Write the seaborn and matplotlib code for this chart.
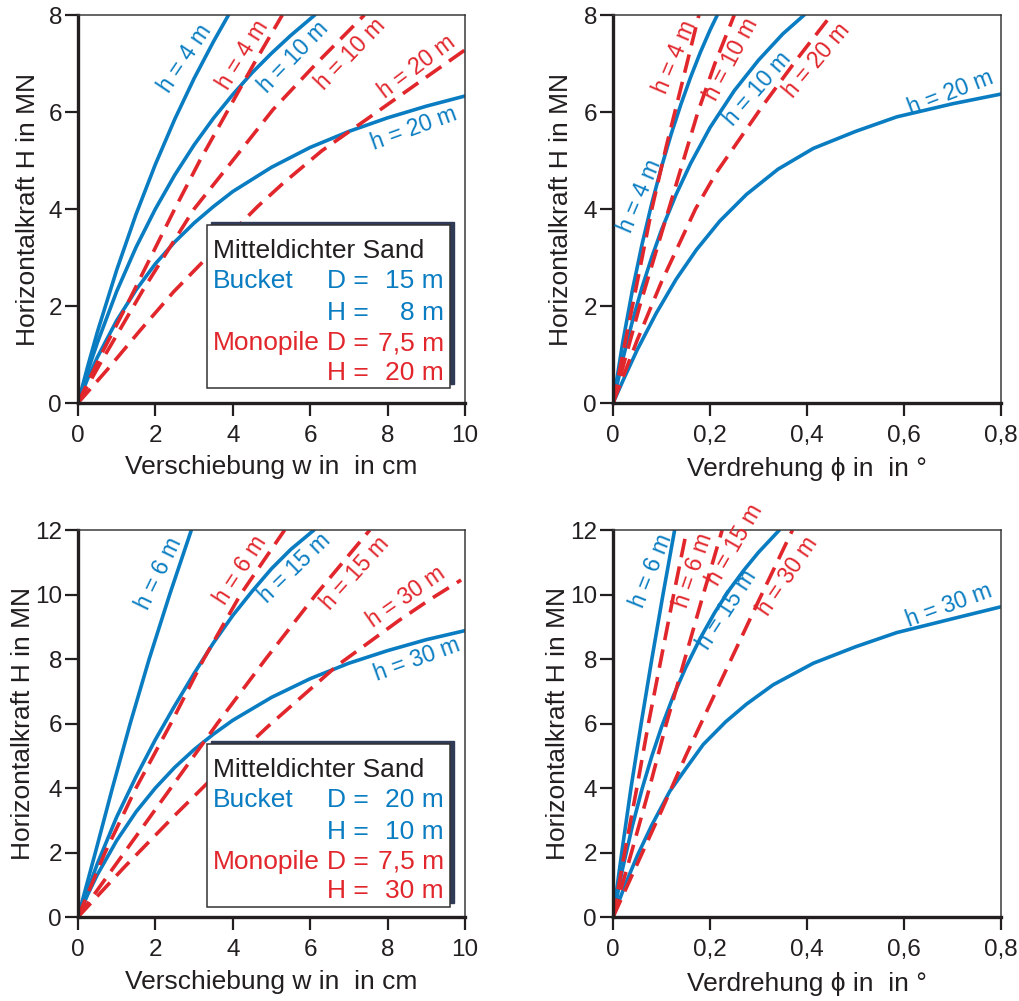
import pandas as pd
import seaborn as sns
import matplotlib.pyplot as plt
from matplotlib.patches import Rectangle

BLUE = "#0a7dc2"
RED = "#e1262c"
INK = "#231f20"

# ---- values ----
# top left: Verschiebung w (cm) vs H (MN), D = 15 m bucket / 7,5 m monopile
tl_b4_w = [0, 0.25, 0.5, 1.0, 1.5, 2.0, 2.5, 3.0, 3.5, 3.89]
tl_b4_H = [0, 0.75, 1.46, 2.74, 3.89, 4.92, 5.85, 6.69, 7.45, 8.0]
tl_b10_w = [0, 0.25, 0.5, 1.0, 1.5, 2.0, 2.5, 3.0, 3.5, 4.0, 4.5, 5.0, 5.5, 6.12]
tl_b10_H = [0, 0.65, 1.24, 2.3, 3.21, 4.0, 4.7, 5.32, 5.87, 6.36, 6.81, 7.21, 7.58, 8.0]
tl_b20_w = [0, 0.25, 0.5, 1.0, 1.5, 2.0, 2.5, 3.0, 3.5, 4.0, 5.0, 6.0, 7.0, 8.0, 9.0, 10.0]
tl_b20_H = [0, 0.5, 0.94, 1.7, 2.33, 2.87, 3.32, 3.71, 4.05, 4.36, 4.86, 5.27, 5.6, 5.88, 6.12, 6.33]
tl_r4_w = [0, 0.6, 1.25, 2.5, 3.15, 3.85, 4.55, 5.28]
tl_r4_H = [0, 1.0, 2.0, 4.0, 5.0, 6.0, 7.0, 8.0]
tl_r10_w = [0, 0.6, 1.68, 3.0, 4.0, 5.04, 6.16, 7.4]
tl_r10_H = [0, 0.85, 2.33, 4.0, 5.0, 6.05, 7.0, 8.0]
tl_r20_w = [0, 0.76, 1.62, 2.48, 3.58, 4.64, 5.3, 6.3, 7.46, 8.7, 10.0]
tl_r20_H = [0, 0.69, 1.51, 2.3, 3.2, 4.05, 4.53, 5.2, 5.85, 6.55, 7.28]

# top right: Verdrehung phi (deg) vs H (MN)
tr_b4_p = [0, 0.02, 0.04, 0.06, 0.08, 0.1, 0.12, 0.14, 0.16, 0.18, 0.2, 0.215]
tr_b4_H = [0, 1.25, 2.33, 3.28, 4.12, 4.87, 5.55, 6.16, 6.72, 7.23, 7.69, 8.0]
tr_b10_p = [0, 0.02, 0.04, 0.06, 0.08, 0.1, 0.13, 0.16, 0.2, 0.25, 0.3, 0.35, 0.394]
tr_b10_H = [0, 0.9, 1.69, 2.39, 3.01, 3.57, 4.3, 4.94, 5.68, 6.44, 7.07, 7.61, 8.0]
tr_b20_p = [0, 0.02, 0.05, 0.089, 0.13, 0.172, 0.22, 0.275, 0.34, 0.413, 0.5, 0.585, 0.7, 0.8]
tr_b20_H = [0, 0.45, 1.1, 1.85, 2.55, 3.16, 3.75, 4.3, 4.82, 5.25, 5.6, 5.9, 6.17, 6.37]
tr_r4_p = [0, 0.04, 0.08, 0.11, 0.14, 0.177]
tr_r4_H = [0, 2.0, 4.0, 5.3, 6.5, 8.0]
tr_r10_p = [0, 0.055, 0.115, 0.175, 0.21, 0.25]
tr_r10_H = [0, 2.0, 4.0, 6.0, 7.0, 8.0]
tr_r20_p = [0, 0.05, 0.1, 0.17, 0.213, 0.31, 0.38, 0.45]
tr_r20_H = [0, 1.3, 2.5, 4.0, 4.75, 6.15, 7.1, 8.0]

# bottom left: D = 20 m bucket / 7,5 m monopile
bl_b6_w = [0, 0.45, 0.89, 1.35, 1.84, 2.37, 2.93]
bl_b6_H = [0, 2, 4, 6, 8, 10, 12]
bl_b15_w = [0, 0.5, 1.0, 1.5, 2.0, 2.5, 3.0, 3.5, 4.0, 4.5, 5.0, 5.5, 6.1]
bl_b15_H = [0, 1.65, 3.1, 4.35, 5.5, 6.55, 7.55, 8.5, 9.35, 10.1, 10.8, 11.4, 12.0]
bl_b30_w = [0, 0.25, 0.5, 1.0, 1.5, 2.0, 2.5, 3.0, 3.5, 4.0, 5.0, 6.0, 7.0, 8.0, 9.0, 10.0]
bl_b30_H = [0, 0.69, 1.31, 2.37, 3.26, 4.0, 4.64, 5.19, 5.67, 6.1, 6.81, 7.39, 7.87, 8.26, 8.6, 8.88]
bl_r6_w = [0, 0.7, 1.5, 2.4, 3.25, 4.2, 5.34]
bl_r6_H = [0, 2, 4, 6, 8, 10, 12]
bl_r15_w = [0, 1.2, 2.4, 3.6, 4.85, 6.15, 7.54]
bl_r15_H = [0, 2, 4, 6, 8, 10, 12]
bl_r30_w = [0, 1.2, 2.5, 3.3, 4.1, 4.9, 5.8, 6.7, 7.5, 8.3, 9.1, 9.9]
bl_r30_H = [0, 1.55, 3.15, 4.1, 5.0, 5.9, 6.85, 7.8, 8.5, 9.2, 9.85, 10.45]

# bottom right
br_b6_p = [0, 0.018, 0.037, 0.058, 0.08, 0.103, 0.127]
br_b6_H = [0, 2, 4, 6, 8, 10, 12]
br_b15_p = [0, 0.02, 0.04, 0.06, 0.08, 0.1, 0.125, 0.15, 0.18, 0.21, 0.24, 0.27, 0.3, 0.343]
br_b15_H = [0, 1.52, 2.83, 3.98, 4.99, 5.89, 6.88, 7.74, 8.65, 9.45, 10.15, 10.76, 11.31, 12.0]
br_b30_p = [0, 0.025, 0.05, 0.08, 0.117, 0.15, 0.186, 0.232, 0.275, 0.33, 0.413, 0.5, 0.585, 0.7, 0.8]
br_b30_H = [0, 1.0, 1.9, 2.85, 3.9, 4.6, 5.35, 6.05, 6.6, 7.2, 7.87, 8.38, 8.82, 9.25, 9.62]
br_r6_p = [0, 0.024, 0.049, 0.073, 0.099, 0.125, 0.152]
br_r6_H = [0, 2, 4, 6, 8, 10, 12]
br_r15_p = [0, 0.038, 0.075, 0.11, 0.148, 0.186, 0.225]
br_r15_H = [0, 2, 4, 6, 8, 10, 12]
br_r30_p = [0, 0.05, 0.1, 0.15, 0.2, 0.25, 0.3, 0.37]
br_r30_H = [0, 1.65, 3.3, 5.0, 6.6, 8.2, 9.8, 12.0]

w_ticks = [0, 2, 4, 6, 8, 10]
w_ticklabels = ["0", "2", "4", "6", "8", "10"]
phi_ticks = [0, 0.2, 0.4, 0.6, 0.8]
phi_ticklabels = ["0", "0,2", "0,4", "0,6", "0,8"]
H_ticks_top = [0, 2, 4, 6, 8]
H_ticks_bottom = [0, 2, 4, 6, 8, 10, 12]

legend_top = [("Bucket", "D =", "15 m", BLUE), ("", "H =", "8 m", BLUE),
              ("Monopile", "D =", "7,5 m", RED), ("", "H =", "20 m", RED)]
legend_bottom = [("Bucket", "D =", "20 m", BLUE), ("", "H =", "10 m", BLUE),
                 ("Monopile", "D =", "7,5 m", RED), ("", "H =", "30 m", RED)]

sns.set_theme(style="ticks")
plt.rcParams["font.family"] = ["Liberation Sans", "DejaVu Sans"]
plt.rcParams["text.color"] = INK
plt.rcParams["axes.labelcolor"] = INK
plt.rcParams["xtick.color"] = INK
plt.rcParams["ytick.color"] = INK

fig = plt.figure(figsize=(10.19, 10.01), dpi=100)
ax_tl = fig.add_axes([0.0765, 0.5974, 0.3798, 0.3876])
ax_tr = fig.add_axes([0.6016, 0.5974, 0.3808, 0.3876])
ax_bl = fig.add_axes([0.0765, 0.0839, 0.3798, 0.3866])
ax_br = fig.add_axes([0.6016, 0.0839, 0.3808, 0.3866])


def curve(ax, x, y, color, dashed=False):
    df = pd.DataFrame({"x": x, "y": y})
    ls = (0, (5.2, 2.6)) if dashed else "-"
    sns.lineplot(data=df, x="x", y="y", ax=ax, color=color, linewidth=2.6,
                 linestyle=ls, estimator=None, sort=False, zorder=2 + dashed * 0.1)


def style_axis(ax, xticks, xlabels, yticks, xmax, ymax, xlabel, ylab_x, xlab_y):
    ax.set_xlim(0, xmax)
    ax.set_ylim(0, ymax)
    ax.set_xticks(xticks)
    ax.set_xticklabels(xlabels)
    ax.set_yticks(yticks)
    ax.set_yticklabels([str(t) for t in yticks])
    ax.tick_params(axis="both", direction="out", length=9.5, width=1.6, labelsize=17.5)
    ax.tick_params(axis="x", pad=6)
    ax.tick_params(axis="y", pad=2)
    for side in ["left", "bottom"]:
        ax.spines[side].set_linewidth(2.4)
        ax.spines[side].set_color(INK)
    for side in ["top", "right"]:
        ax.spines[side].set_linewidth(1.1)
        ax.spines[side].set_color("#3a3a3a")
        ax.spines[side].set_visible(True)
    ax.set_xlabel(xlabel, fontsize=19)
    ax.set_ylabel("Horizontalkraft H in MN", fontsize=19)
    ax.yaxis.set_label_coords(ylab_x, 0.5)
    ax.xaxis.set_label_coords(0.5, xlab_y)


def labels(ax, items):
    for text, x, y, ang, color in items:
        ax.text(x, y, text, color=color, fontsize=16.5, rotation=ang,
                rotation_mode="anchor", ha="center", va="center", zorder=6,
                clip_on=False)


def legend_box(ax, y0, rows, baselines):
    shadow = Rectangle((0.333 + 0.0103, y0 + 0.009), 0.628, 0.42,
                       transform=ax.transAxes, facecolor="#2f3b57",
                       edgecolor="#2f3b57", lw=1.0, zorder=4)
    box = Rectangle((0.333, y0), 0.628, 0.42, transform=ax.transAxes,
                    facecolor="white", edgecolor="#333333", lw=1.1, zorder=4.1)
    ax.add_patch(shadow)
    ax.add_patch(box)
    ax.text(0.349, baselines[0], "Mitteldichter Sand", transform=ax.transAxes,
            fontsize=19, color=INK, va="baseline", ha="left", zorder=5)
    for (name, sym, val, color), yb in zip(rows, baselines[1:]):
        ax.text(0.349, yb, name, transform=ax.transAxes, fontsize=19,
                color=color, va="baseline", ha="left", zorder=5)
        ax.text(0.643, yb, sym, transform=ax.transAxes, fontsize=19,
                color=color, va="baseline", ha="left", zorder=5)
        ax.text(0.946, yb, val, transform=ax.transAxes, fontsize=19,
                color=color, va="baseline", ha="right", zorder=5)


# top left
curve(ax_tl, tl_b4_w, tl_b4_H, BLUE)
curve(ax_tl, tl_b10_w, tl_b10_H, BLUE)
curve(ax_tl, tl_b20_w, tl_b20_H, BLUE)
curve(ax_tl, tl_r4_w, tl_r4_H, RED, True)
curve(ax_tl, tl_r10_w, tl_r10_H, RED, True)
curve(ax_tl, tl_r20_w, tl_r20_H, RED, True)
style_axis(ax_tl, w_ticks, w_ticklabels, H_ticks_top, 10, 8,
           "Verschiebung w in  in cm", -0.098, -0.134)
labels(ax_tl, [("h = 4 m", 2.76, 7.11, 56, BLUE), ("h = 4 m", 4.27, 7.18, 58, RED),
               ("h = 10 m", 5.56, 7.13, 46, BLUE), ("h = 10 m", 7.05, 7.2, 46, RED),
               ("h = 20 m", 8.77, 6.93, 37, RED), ("h = 20 m", 8.69, 5.65, 20, BLUE)])
legend_box(ax_tl, 0.0387, legend_top, [0.373, 0.2956, 0.2131, 0.1358, 0.0585])

# top right
curve(ax_tr, tr_b4_p, tr_b4_H, BLUE)
curve(ax_tr, tr_b10_p, tr_b10_H, BLUE)
curve(ax_tr, tr_b20_p, tr_b20_H, BLUE)
curve(ax_tr, tr_r4_p, tr_r4_H, RED, True)
curve(ax_tr, tr_r10_p, tr_r10_H, RED, True)
curve(ax_tr, tr_r20_p, tr_r20_H, RED, True)
style_axis(ax_tr, phi_ticks, phi_ticklabels, H_ticks_top, 0.8, 8,
           "Verdrehung \u03d5 in  in \u00b0", -0.103, -0.139)
labels(ax_tr, [("h = 4 m", 0.127, 7.14, 67, RED), ("h = 10 m", 0.244, 7.09, 62, RED),
               ("h = 10 m", 0.297, 6.47, 49, BLUE), ("h = 20 m", 0.421, 7.07, 50, RED),
               ("h = 20 m", 0.695, 6.39, 21, BLUE), ("h = 4 m", 0.056, 4.26, 67, BLUE)])

# bottom left
curve(ax_bl, bl_b6_w, bl_b6_H, BLUE)
curve(ax_bl, bl_b15_w, bl_b15_H, BLUE)
curve(ax_bl, bl_b30_w, bl_b30_H, BLUE)
curve(ax_bl, bl_r6_w, bl_r6_H, RED, True)
curve(ax_bl, bl_r15_w, bl_r15_H, RED, True)
curve(ax_bl, bl_r30_w, bl_r30_H, RED, True)
style_axis(ax_bl, w_ticks, w_ticklabels, H_ticks_bottom, 10, 12,
           "Verschiebung w in  in cm", -0.111, -0.137)
labels(ax_bl, [("h = 6 m", 2.09, 10.64, 64, BLUE), ("h = 6 m", 4.2, 10.76, 57, RED),
               ("h = 15 m", 5.6, 10.81, 44, BLUE), ("h = 15 m", 7.16, 10.66, 48, RED),
               ("h = 30 m", 8.49, 9.93, 35, RED), ("h = 30 m", 8.77, 7.99, 20, BLUE)])
legend_box(ax_bl, 0.026, legend_bottom, [0.3625, 0.2848, 0.2028, 0.1253, 0.0483])

# bottom right
curve(ax_br, br_b6_p, br_b6_H, BLUE)
curve(ax_br, br_b15_p, br_b15_H, BLUE)
curve(ax_br, br_b30_p, br_b30_H, BLUE)
curve(ax_br, br_r6_p, br_r6_H, RED, True)
curve(ax_br, br_r15_p, br_r15_H, RED, True)
curve(ax_br, br_r30_p, br_r30_H, RED, True)
style_axis(ax_br, phi_ticks, phi_ticklabels, H_ticks_bottom, 0.8, 12,
           "Verdrehung \u03d5 in  in \u00b0", -0.111, -0.142)
labels(ax_br, [("h = 6 m", 0.079, 10.74, 68, BLUE), ("h = 6 m", 0.165, 10.76, 71, RED),
               ("h = 15 m", 0.251, 11.54, 60, RED), ("h = 15 m", 0.235, 9.52, 57, BLUE),
               ("h = 30 m", 0.361, 10.58, 56, RED), ("h = 30 m", 0.693, 9.65, 20, BLUE)])

fig.savefig("out.png", dpi=100)
